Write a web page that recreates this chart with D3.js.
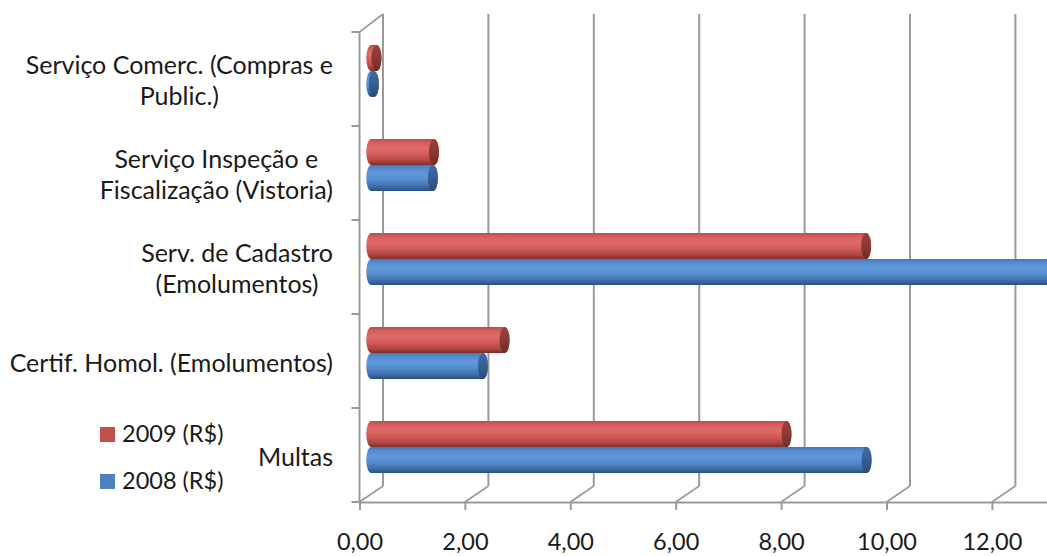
<!DOCTYPE html>
<html>
<head>
<meta charset="utf-8">
<script src="https://cdn.jsdelivr.net/npm/d3@7"></script>
<style>
  html, body { margin: 0; padding: 0; background: #fff; }
  svg { display: block; }
  text { font-family: Lato, "Open Sans", sans-serif; fill: #1a1a1a; }
</style>
</head>
<body>
<svg id="chart" width="1047" height="556"></svg>
<script>
// ---- data ----
const categories = [
  "Serviço Comerc. (Compras e Public.)",
  "Serviço Inspeção e Fiscalização (Vistoria)",
  "Serv. de Cadastro (Emolumentos)",
  "Certif. Homol. (Emolumentos)",
  "Multas"
];
const categoryLines = [
  ["Serviço Comerc. (Compras e", "Public.)"],
  ["Serviço Inspeção e", "Fiscalização (Vistoria)"],
  ["Serv. de Cadastro", "(Emolumentos)"],
  ["Certif. Homol. (Emolumentos)"],
  ["Multas"]
];
const seriesNames = ["2009 (R$)", "2008 (R$)"];
const values2009 = [0.10, 1.19, 9.39, 2.53, 7.88];
const values2008 = [0.05, 1.17, 13.5, 2.12, 9.40];
const tickValues = [0, 2, 4, 6, 8, 10, 12];

// ---- layout ----
const svg = d3.select("#chart");
const frontTop = 32, frontBottom = 502;
const dx = 23.5, backTop = 14, backBottom = 486;
const barH = 26, barShift = 8, rx = 5;

const x = d3.scaleLinear().domain([0, 14]).range([359.5, 359.5 + 14 * 52.7]);
const y = d3.scaleBand().domain(categories).range([frontTop, frontBottom]).padding(0);

const gridColor = "#9a9a9a";

// defs: gradients
const defs = svg.append("defs");
function cylGrad(id, stops) {
  const g = defs.append("linearGradient").attr("id", id)
    .attr("x1", 0).attr("y1", 0).attr("x2", 0).attr("y2", 1);
  stops.forEach(s => g.append("stop").attr("offset", s[0]).attr("stop-color", s[1]));
}
cylGrad("gRed", [[0, "#bc4a47"], [0.12, "#d45d5a"], [0.35, "#e06b68"], [0.6, "#d25b58"], [0.85, "#ad4441"], [1, "#7c2f2d"]]);
cylGrad("gBlue", [[0, "#4676b4"], [0.12, "#548bce"], [0.35, "#6099db"], [0.6, "#538bcd"], [0.85, "#3d6aa6"], [1, "#2b4f80"]]);
cylGrad("gRedCap", [[0, "#9a403d"], [0.5, "#8c3936"], [1, "#6e2b29"]]);
cylGrad("gBlueCap", [[0, "#3f6ba3"], [0.5, "#375f93"], [1, "#294a76"]]);

// back wall gridlines + floor diagonals
const grid = svg.append("g");
x.ticks(7).forEach(t => {
  grid.append("line")
    .attr("x1", x(t) + dx).attr("y1", backTop)
    .attr("x2", x(t) + dx).attr("y2", backBottom)
    .attr("stroke", gridColor).attr("stroke-width", 2);
  grid.append("line")
    .attr("x1", x(t)).attr("y1", frontBottom)
    .attr("x2", x(t) + dx).attr("y2", backBottom)
    .attr("stroke", gridColor).attr("stroke-width", 1.6);
});
// left wall
grid.append("line")
  .attr("x1", x(0)).attr("y1", frontTop).attr("x2", x(0) + dx).attr("y2", backTop)
  .attr("stroke", gridColor).attr("stroke-width", 1.6);
grid.append("line")
  .attr("x1", x(0)).attr("y1", frontTop).attr("x2", x(0)).attr("y2", frontBottom)
  .attr("stroke", gridColor).attr("stroke-width", 2);
// category ticks
const catTicks = categories.map(c => y(c)).concat([frontBottom]);
catTicks.forEach(t => {
  grid.append("line")
    .attr("x1", x(0) - 8).attr("y1", t).attr("x2", x(0)).attr("y2", t)
    .attr("stroke", gridColor).attr("stroke-width", 2);
});

// bottom axis
const axis = d3.axisBottom(x)
  .tickValues(tickValues)
  .tickSize(8)
  .tickSizeOuter(0)
  .tickPadding(23)
  .tickFormat(d => d3.format(".2f")(d).replace(".", ","));
const ax = svg.append("g").attr("transform", `translate(0,${frontBottom})`).call(axis);
ax.select(".domain").attr("stroke", gridColor).attr("stroke-width", 2);
ax.selectAll(".tick line").attr("stroke", gridColor).attr("stroke-width", 2);
ax.selectAll(".tick text")
  .style("font-family", "Lato, 'Open Sans', sans-serif")
  .attr("font-size", 23.5).attr("fill", "#1a1a1a");

// cylinders
function cylinder(g, x0, x1, top, h, body, cap) {
  const ry = h / 2, bot = top + h;
  g.append("path")
    .attr("d", `M${x0},${top} L${x1},${top} A${rx},${ry} 0 0 1 ${x1},${bot} L${x0},${bot} A${rx},${ry} 0 0 1 ${x0},${top} Z`)
    .attr("fill", `url(#${body})`);
  g.append("ellipse")
    .attr("cx", x1).attr("cy", top + ry).attr("rx", rx).attr("ry", ry)
    .attr("fill", `url(#${cap})`);
}
const bars = svg.append("g");
const seriesData = [
  { vals: values2009, body: "gRed", cap: "gRedCap", off: -barShift - barH },
  { vals: values2008, body: "gBlue", cap: "gBlueCap", off: -barShift }
];
categories.forEach((c, i) => {
  const mid = y(c) + y.bandwidth() / 2;
  seriesData.forEach(s => {
    cylinder(bars, x(0) + dx / 2, x(s.vals[i]) + dx / 2, mid + s.off, barH, s.body, s.cap);
  });
});

// category labels
const labelRight = 333, lineH = 31, fs = 25;
categoryLines.forEach((lines, i) => {
  const mid = y(categories[i]) + y.bandwidth() / 2 + 2;
  const g = svg.append("g");
  const texts = lines.map((ln, k) => g.append("text")
    .attr("font-size", fs)
    .attr("text-anchor", "middle")
    .attr("dy", "0.35em")
    .attr("y", mid + (k - (lines.length - 1) / 2) * lineH)
    .text(ln));
  const maxW = d3.max(texts, t => t.node().getComputedTextLength());
  texts.forEach(t => t.attr("x", labelRight - maxW / 2));
});

// legend
const legend = svg.append("g");
const legColors = ["#c0504d", "#4f81bd"];
const legY = [434, 481];
seriesNames.forEach((n, i) => {
  legend.append("rect").attr("x", 100).attr("y", legY[i] - 7).attr("width", 15).attr("height", 15)
    .attr("fill", legColors[i]);
  legend.append("text").attr("x", 122).attr("y", legY[i]).attr("dy", "0.35em")
    .attr("font-size", 23.5).text(n);
});
</script>
</body>
</html>
